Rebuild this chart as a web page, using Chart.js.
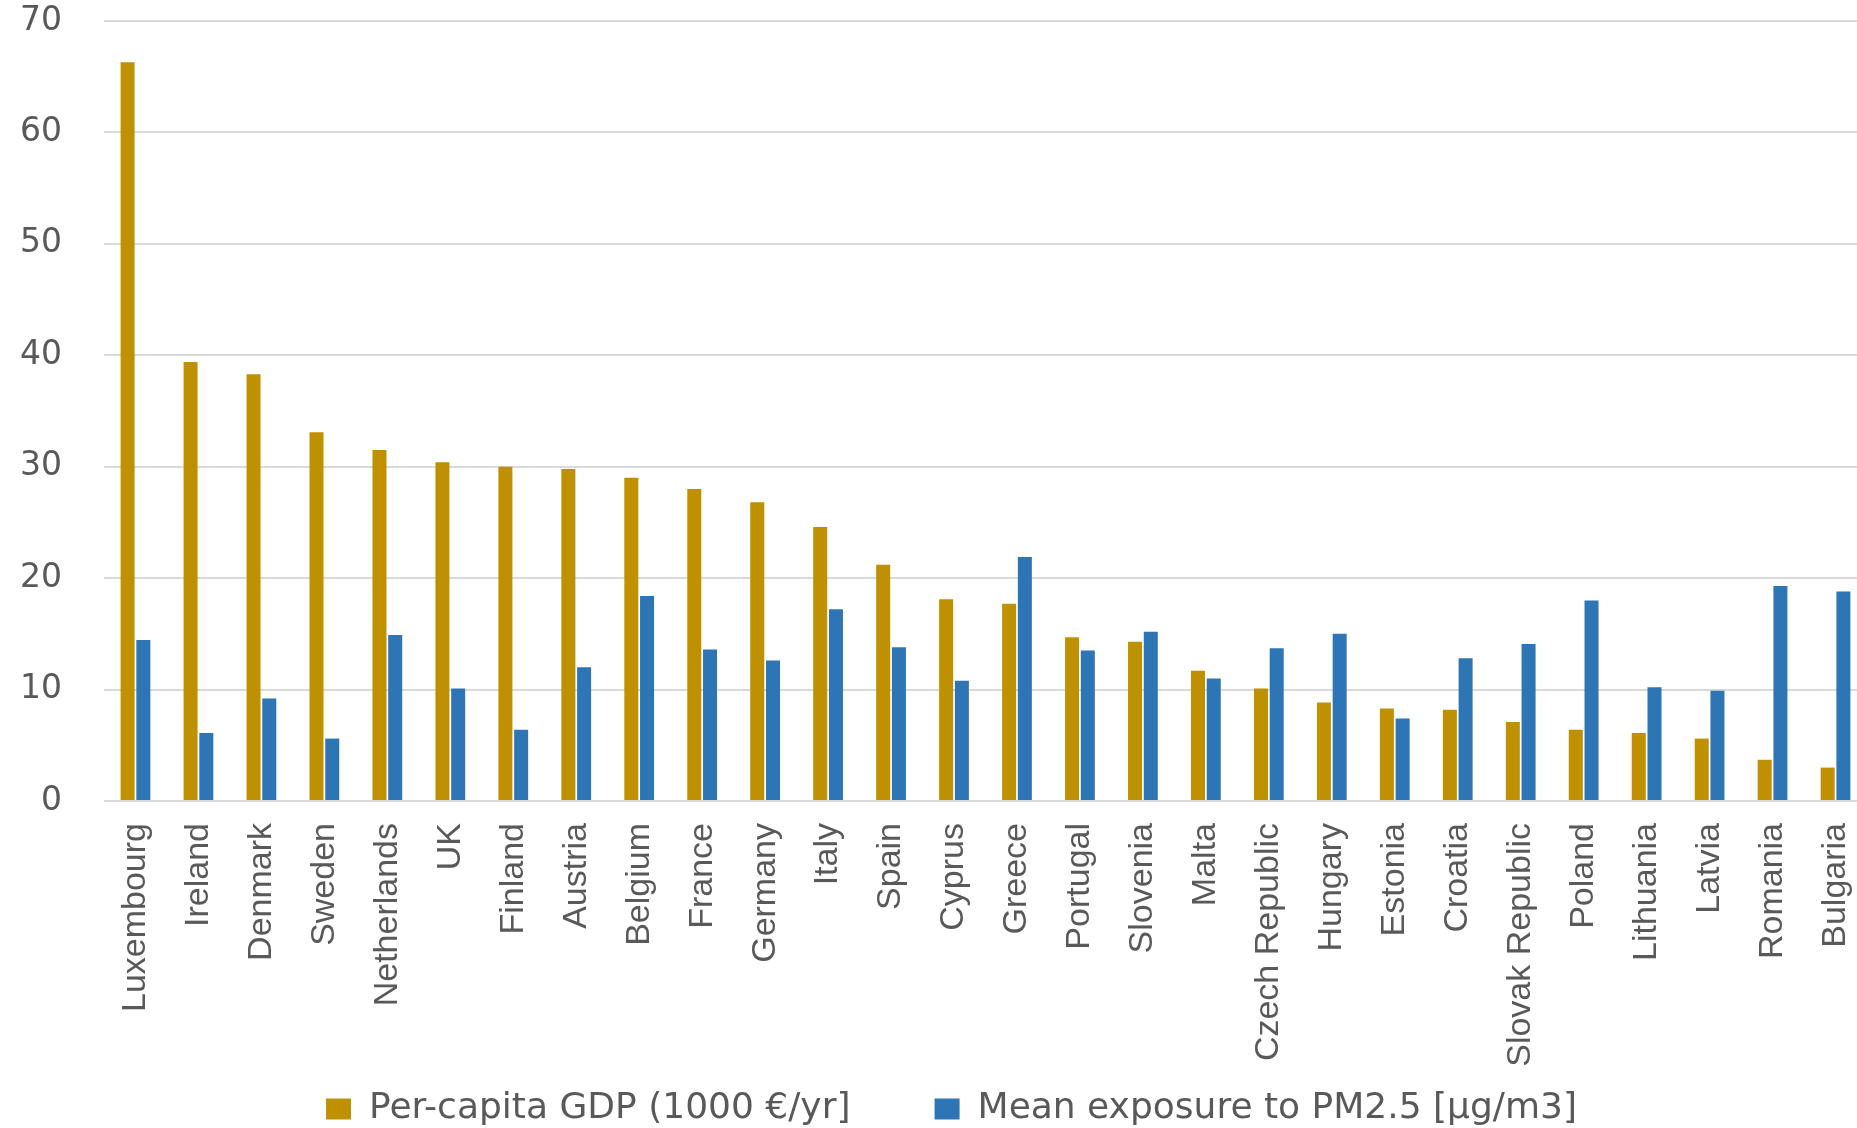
<!DOCTYPE html>
<html>
<head>
<meta charset="utf-8">
<title>GDP and PM2.5 exposure</title>
<script src="https://cdn.jsdelivr.net/npm/chart.js@4.4.1/dist/chart.umd.min.js"></script>
<style>
  html, body { margin: 0; padding: 0; background: #ffffff; overflow: hidden; }
  #chart-box { width: 1867px; height: 1128px; position: relative; }
</style>
</head>
<body>
<div id="chart-box">
  <canvas id="pm-chart"></canvas>
</div>
<script>
'use strict';

// *************** DATA
let countries = ['Luxembourg', 'Ireland', 'Denmark', 'Sweden', 'Netherlands', 'UK', 'Finland', 'Austria',
  'Belgium', 'France', 'Germany', 'Italy', 'Spain', 'Cyprus', 'Greece', 'Portugal', 'Slovenia', 'Malta',
  'Czech Republic', 'Hungary', 'Estonia', 'Croatia', 'Slovak Republic', 'Poland', 'Lithuania', 'Latvia',
  'Romania', 'Bulgaria'];

let gdpValues = [66.3, 39.4, 38.3, 33.1, 31.5, 30.4, 30.0, 29.8, 29.0, 28.0, 26.8, 24.6, 21.2, 18.1,
  17.7, 14.7, 14.3, 11.7, 10.1, 8.85, 8.3, 8.2, 7.1, 6.4, 6.1, 5.6, 3.7, 3.0];

let pmValues = [14.45, 6.1, 9.2, 5.6, 14.9, 10.1, 6.4, 12.0, 18.4, 13.6, 12.6, 17.2, 13.8, 10.8,
  21.9, 13.5, 15.2, 11.0, 13.7, 15.0, 7.4, 12.8, 14.1, 18.0, 10.2, 9.9, 19.3, 18.8];

let seriesNames = ['Per-capita GDP (1000 €/yr]', 'Mean exposure to PM2.5 [µg/m3]'];

let yMin = 0;
let yMax = 70;
let yStep = 10;

// *************** STYLE
let gold = '#BF9000';
let blue = '#2E75B6';
let textGrey = '#595959';
let gridGrey = '#d9d9d9';
let legendShiftX = 18;
let legendShiftY = 9;

// ****************** CANVAS ELEMENT FOR CHART ************
let ctx = document.getElementById('pm-chart');

// *********** HELPER: LEGEND ITEMS (extra gap after first entry) ************
function legendLabels(chart) {
  let items = Chart.defaults.plugins.legend.labels.generateLabels(chart);
  items[0].text = items[0].text + '       ';
  return items;
}

// nudge the legend a little right and down, like the original
let legendNudge = {
  id: 'legendNudge',
  afterUpdate: function (chart) {
    let lg = chart.legend;
    lg.left += legendShiftX;
    lg.right += legendShiftX;
    lg.top += legendShiftY;
    lg.bottom += legendShiftY;
    lg.adjustHitBoxes();
  }
};

// *********** RENDER CHART ************
function renderChart() {
  let chartObj = {
    type: 'bar',
    data: {
      labels: countries,
      datasets: [{
        label: seriesNames[0],
        data: gdpValues,
        backgroundColor: gold,
        borderWidth: 0,
        categoryPercentage: 0.5,
        barPercentage: 0.89
      },
      {
        label: seriesNames[1],
        data: pmValues,
        backgroundColor: blue,
        borderWidth: 0,
        categoryPercentage: 0.5,
        barPercentage: 0.89
      }]
    },
    options: {
      responsive: true,
      maintainAspectRatio: false,
      animation: false,
      devicePixelRatio: 1,
      layout: {
        padding: { left: 0, right: 0, top: 21, bottom: 0 }
      },
      plugins: {
        tooltip: { enabled: false },
        legend: {
          position: 'bottom',
          labels: {
            color: textGrey,
            font: { family: "'DejaVu Sans', sans-serif", size: 36 },
            boxWidth: 25,
            boxHeight: 21,
            padding: 4,
            generateLabels: legendLabels
          }
        }
      },
      scales: {
        x: {
          grid: { display: false, drawTicks: false },
          border: { display: false },
          ticks: {
            color: textGrey,
            font: { family: "'Liberation Sans', Arial, sans-serif", size: 34 },
            minRotation: 90,
            maxRotation: 90,
            autoSkip: false,
            padding: 22
          },
          afterFit: function (scale) {
            scale.height = 277;
            scale.paddingLeft = 0;
            scale.paddingRight = 0;
          }
        },
        y: {
          min: yMin,
          max: yMax,
          grid: { color: gridGrey, lineWidth: 2, drawTicks: false },
          border: { display: false },
          ticks: {
            stepSize: yStep,
            color: textGrey,
            font: { family: "'DejaVu Sans', sans-serif", size: 33 },
            padding: 42
          },
          afterFit: function (scale) {
            scale.width = 104;
            scale.paddingTop = 0;
            scale.paddingBottom = 0;
          }
        }
      }
    },
    plugins: [legendNudge]
  };

  new Chart(ctx, chartObj); // eslint-disable-line
}

// **************** EXECUTABLE CODE
renderChart();
</script>
</body>
</html>
